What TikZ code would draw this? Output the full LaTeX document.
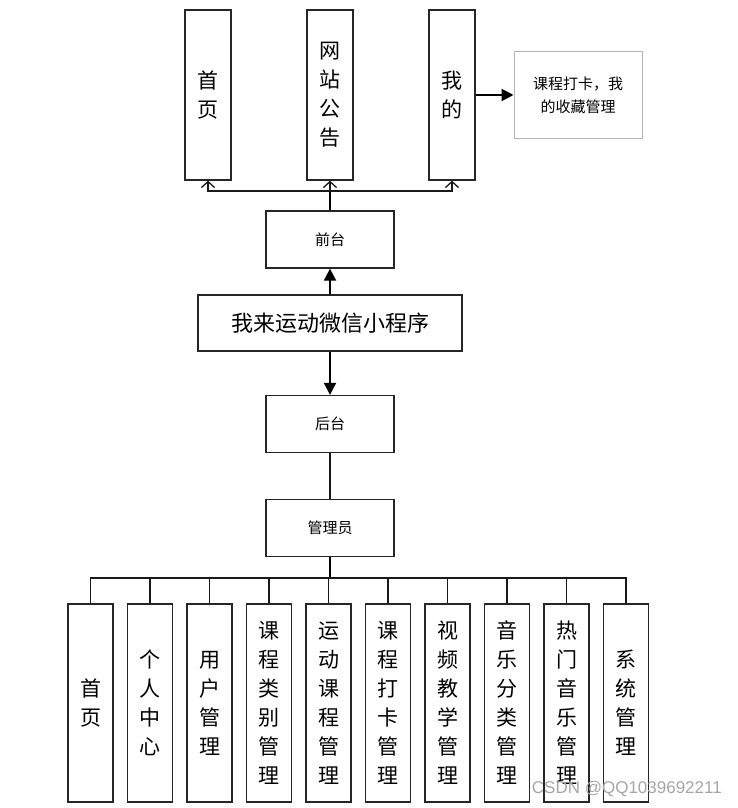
\documentclass[tikz,border=0pt]{standalone}
\usepackage{fontspec}
\newfontfamily\cjk{Noto Sans CJK SC}
\newfontfamily\wmfont{Liberation Sans}
\usetikzlibrary{arrows.meta}
\begin{document}
\begin{tikzpicture}[x=1pt,y=-1pt,
  box/.style={draw=black!85, line width=1.3pt, fill=white, inner sep=0pt, align=center},
  vbox/.style={box, minimum width=46, font=\cjk\fontsize{21}{29}\selectfont},
  hbox/.style={box, minimum width=128, minimum height=57, font=\cjk\fontsize{15}{20}\selectfont},
  conn/.style={line width=1.5pt, draw=black!90},
  thick conn/.style={line width=2pt, draw=black},
  barb/.style={-{Straight Barb[length=6pt,width=13pt,line width=1.3pt]}},
  tri/.style={-{Triangle[length=12pt,width=12pt]}}
]
\useasboundingbox (0,0) rectangle (737,808);

% top level
\node[vbox, minimum height=170] (t1) at (208,95) {首\\页};
\node[vbox, minimum height=170] (t2) at (330,95) {网\\站\\公\\告};
\node[vbox, minimum height=170] (t3) at (452,95) {我\\的};
\node[box, draw=black!30, line width=1pt, minimum width=128, minimum height=86, font=\cjk\fontsize{15}{23}\selectfont] (mine) at (578,95) {课程打卡，我\\的收藏管理};

\node[hbox] (qt) at (330,239.5) {前台};
\node[box, minimum width=264, minimum height=56, font=\cjk\fontsize{22}{26}\selectfont] (app) at (330,323) {我来运动微信小程序};
\node[hbox] (ht) at (330,424) {后台};
\node[hbox] (gl) at (330,528) {管理员};

% bottom level
\foreach \i/\x/\t in {1/90.5/{首\\页},2/150/{个\\人\\中\\心},3/209.5/{用\\户\\管\\理},4/269/{课\\程\\类\\别\\管\\理},5/328.5/{运\\动\\课\\程\\管\\理},6/388/{课\\程\\打\\卡\\管\\理},7/447.5/{视\\频\\教\\学\\管\\理},8/507/{音\\乐\\分\\类\\管\\理},9/566.5/{热\\门\\音\\乐\\管\\理},10/626/{系\\统\\管\\理}}
  \node[vbox, minimum width=45, minimum height=198] (b\i) at (\x,703) {\t};

\coordinate (bt) at (330,191);
\coordinate (bb) at (330,578);

% connectors top
\draw[thick conn] (qt.north) -- (bt);
\draw[conn, barb] (bt) -| (t1.south);
\draw[conn, barb] (bt) -| (t3.south);
\draw[conn, barb] (bt) -- (t2.south);
\draw[thick conn, tri] (t3.east |- mine.west) -- (mine.west);
\draw[thick conn, tri] (app.north) -- (qt.south);
\draw[thick conn, tri] (app.south) -- (ht.north);
\draw[conn] (ht.south) -- (gl.north);
\draw[thick conn] (gl.south) -- (bb);
\foreach \i in {1,...,10}
  \draw[conn] (bb) -| (b\i.north);

% watermark
\node[font=\wmfont\fontsize{17}{20}\selectfont, text=black!35, anchor=east, inner sep=0pt] (wm) at (722,789) {CSDN @QQ1039692211};
\end{tikzpicture}
\end{document}
